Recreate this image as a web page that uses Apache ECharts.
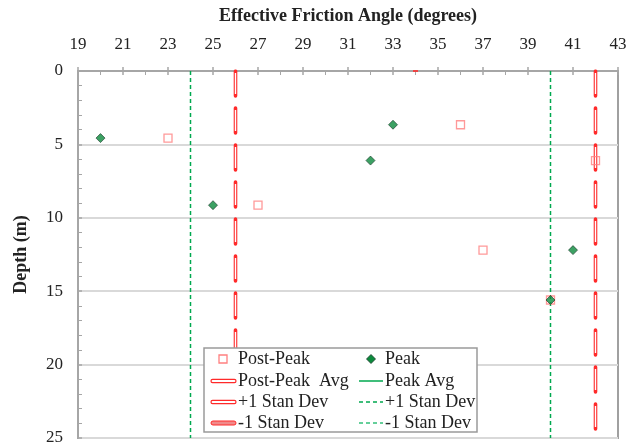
<!DOCTYPE html>
<html><head><meta charset="utf-8">
<script src="https://cdn.jsdelivr.net/npm/echarts@6/dist/echarts.min.js"></script>
<style>html,body{margin:0;padding:0;background:#fff}#c{width:638px;height:444px}</style>
</head><body><div id="c"></div>
<script>
// ---- axis definitions ----
const X_MIN = 19, X_MAX = 43, X_STEP = 2;
const Y_MIN = 0, Y_MAX = 25, Y_STEP = 5;
const xTitle = 'Effective Friction Angle (degrees)';
const yTitle = 'Depth (m)';

// ---- data ----
const postPeakAngle = [36, 23, 42, 27, 37, 40];
const postPeakDepth = [3.66, 4.57, 6.1, 9.14, 12.2, 15.6];
const peakAngle = [33, 20, 32, 25, 41, 40];
const peakDepth = [3.66, 4.57, 6.1, 9.14, 12.2, 15.6];

// statistic lines (angle values)
const postPeakAvg = 34;
const postPeakPlus1 = 42;
const postPeakMinus1 = 26;
const peakAvg = 32;
const peakPlus1 = 40;
const peakMinus1 = 24;

// legend labels
const legendCol1 = ['Post-Peak', 'Post-Peak  Avg', '+1 Stan Dev', '-1 Stan Dev'];
const legendCol2 = ['Peak', 'Peak Avg', '+1 Stan Dev', '-1 Stan Dev'];

// ---- helpers ----
const ox = v => v - X_MIN; // axis runs 0..24, labelled 19..43
const pts = (xs, ys) => xs.map((x, i) => [ox(x), ys[i]]);
const vline = x => [[ox(x), Y_MIN], [ox(x), Y_MAX]];

const RED = '#ff2a2a';
const SQ = '#ff8080';
const GREEN = '#00a84f';
const FONT = "'Liberation Serif','Times New Roman',serif";

function hollowRed(name, x) {
  return [
    { name: name, type: 'line', data: vline(x), symbol: 'none', silent: true, z: 3,
      lineStyle: { color: RED, width: 3.6, type: [25, 12], cap: 'round' } },
    { name: name + '_in', type: 'line', data: vline(x), symbol: 'none', silent: true, z: 4,
      lineStyle: { color: '#ffffff', width: 1.4, type: [21, 16], dashOffset: -2, cap: 'butt' } }
  ];
}
function greenDash(name, x) {
  return { name: name, type: 'line', data: vline(x), symbol: 'none', silent: true, z: 3,
    lineStyle: { color: GREEN, width: 1.5, type: [4, 3] } };
}

const chart = echarts.init(document.getElementById('c'), null, { renderer: 'canvas' });

// ---- legend graphic ----
const LX = 204, LY = 348, LW = 273, LH = 84;
const rowsY = [359, 381, 402, 423];
const c1Text = 238, c2Text = 385;
const g = [];
g.push({ type: 'rect', shape: { x: LX, y: LY, width: LW, height: LH },
  style: { fill: '#fff', stroke: '#9a9a9a', lineWidth: 1.5 }, z: 100 });
legendCol1.forEach((t, i) => g.push({ type: 'text', x: c1Text, y: rowsY[i], z: 101,
  style: { text: t, font: '18px ' + FONT, fill: '#222', verticalAlign: 'middle' } }));
legendCol2.forEach((t, i) => g.push({ type: 'text', x: c2Text, y: rowsY[i], z: 101,
  style: { text: t, font: '18px ' + FONT, fill: '#222', verticalAlign: 'middle' } }));
// symbols
g.push({ type: 'rect', z: 101, shape: { x: 219, y: rowsY[0] - 4, width: 8, height: 8 },
  style: { fill: '#fff', stroke: SQ, lineWidth: 1.3 } });
g.push({ type: 'polygon', z: 101, shape: { points: [[371, rowsY[0] - 4.5], [375.5, rowsY[0]], [371, rowsY[0] + 4.5], [366.5, rowsY[0]]] },
  style: { fill: '#0b8a3c', stroke: '#1b3a2a', lineWidth: 0.8 } });
[1, 2].forEach(i => g.push({ type: 'rect', z: 101, shape: { x: 211, y: rowsY[i] - 1.6, width: 25, height: 3.2, r: 1.6 },
  style: { fill: '#fff', stroke: RED, lineWidth: 1.2 } }));
g.push({ type: 'rect', z: 101, shape: { x: 211, y: rowsY[3] - 2, width: 25, height: 4, r: 2 },
  style: { fill: '#f08a8a', stroke: RED, lineWidth: 1 } });
g.push({ type: 'line', z: 101, shape: { x1: 359, y1: rowsY[1], x2: 383, y2: rowsY[1] },
  style: { stroke: GREEN, lineWidth: 1.5 } });
[2, 3].forEach(i => g.push({ type: 'line', z: 101, shape: { x1: 359, y1: rowsY[i], x2: 383, y2: rowsY[i] },
  style: { stroke: i === 2 ? GREEN : '#33c07a', lineWidth: 1.5, lineDash: [4, 3] } }));

const axisLabelStyle = { fontFamily: FONT, fontSize: 17, color: '#222' };

chart.setOption({
  animation: false,
  backgroundColor: '#fff',
  grid: { left: 78, right: 20, top: 71, bottom: 6, containLabel: false, outerBoundsMode: 'none',
    show: true, borderColor: '#a0a0a0', borderWidth: 2, backgroundColor: 'transparent' },
  xAxis: [{
    type: 'value', position: 'top', min: ox(X_MIN), max: ox(X_MAX), interval: X_STEP,
    name: xTitle, nameLocation: 'middle', nameGap: 46,
    nameTextStyle: { fontFamily: FONT, fontSize: 18, fontWeight: 'bold', color: '#222' },
    axisLine: { show: true, lineStyle: { color: '#a6a6a6', width: 2 } },
    axisTick: { show: true, inside: true, length: 4, lineStyle: { color: '#a6a6a6', width: 1.5 } },
    minorTick: { show: true, splitNumber: 2, length: 4, lineStyle: { color: '#a6a6a6', width: 1 } },
    axisLabel: Object.assign({ margin: 18, formatter: v => String(v + X_MIN) }, axisLabelStyle),
    splitLine: { show: false }
  }, {
    type: 'value', position: 'top', min: ox(X_MIN), max: ox(X_MAX), interval: X_STEP,
    axisLine: { show: false }, axisLabel: { show: false }, splitLine: { show: false },
    axisTick: { show: true, inside: false, length: 4, lineStyle: { color: '#a6a6a6', width: 1.5 } }
  }],
  yAxis: [{
    type: 'value', inverse: true, min: Y_MIN, max: Y_MAX, interval: Y_STEP,
    name: yTitle, nameLocation: 'middle', nameGap: 48, nameRotate: 90,
    nameTextStyle: { fontFamily: FONT, fontSize: 18, fontWeight: 'bold', color: '#222' },
    axisLine: { show: true, lineStyle: { color: '#a6a6a6', width: 2 } },
    axisTick: { show: true, inside: true, length: 4, lineStyle: { color: '#a6a6a6', width: 1.5 } },
    minorTick: { show: true, splitNumber: 5, length: 4, lineStyle: { color: '#a6a6a6', width: 1 } },
    axisLabel: Object.assign({ margin: 15 }, axisLabelStyle),
    splitLine: { show: true, lineStyle: { color: '#d9d9d9', width: 2 } }
  }],
  graphic: g,
  series: [
    greenDash('+1 Stan Dev (Peak)', peakPlus1),
    greenDash('-1 Stan Dev (Peak)', peakMinus1),
    ...hollowRed('+1 Stan Dev', postPeakPlus1),
    ...hollowRed('-1 Stan Dev', postPeakMinus1),
    { name: 'Post-Peak Avg', type: 'scatter', data: [[ox(postPeakAvg), Y_MIN]], symbol: 'rect', symbolSize: [5, 2],
      itemStyle: { color: RED }, z: 5, silent: true },
    { name: 'Post-Peak', type: 'scatter', data: pts(postPeakAngle, postPeakDepth), symbol: 'rect', symbolSize: 8,
      itemStyle: { color: 'rgba(255,255,255,0)', borderColor: SQ, borderWidth: 1.3 }, z: 6 },
    { name: 'Peak', type: 'scatter', data: pts(peakAngle, peakDepth), symbol: 'diamond', symbolSize: [9, 9],
      itemStyle: { color: '#0b8a3c', borderColor: '#1b3a2a', borderWidth: 0.8 }, z: 7 }
  ]
});
</script>
</body></html>
